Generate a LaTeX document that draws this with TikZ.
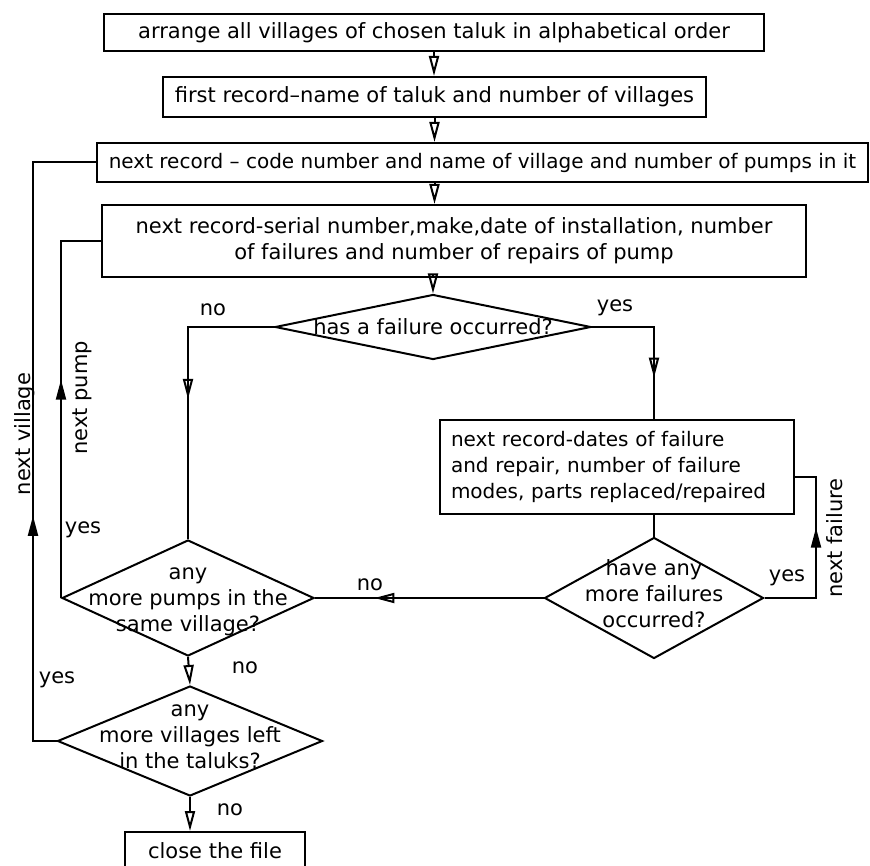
\documentclass[tikz,border=0pt]{standalone}
\usepackage{fontspec}
\setmainfont{DejaVu Sans}
\usetikzlibrary{arrows.meta,shapes.geometric,decorations.markings}
\tikzset{lbl/.style={draw=none, fill=none, inner sep=1pt},
  midarr/.style={postaction={decorate}, decoration={markings,
    mark=at position #1 with {\arrow{Triangle[open, length=10pt, width=5pt]}}}},
  midup/.style={postaction={decorate}, decoration={markings,
    mark=at position #1 with {\arrow{Triangle[length=10pt, width=5pt]}}}}}

\begin{document}
\begin{tikzpicture}[x=0.5pt, y=-0.5pt, line width=1pt,
  >={Triangle[open, length=10pt, width=5pt]},
  every node/.style={font=\fontsize{10.5}{13}\selectfont},
  rec/.style={draw, rectangle, inner sep=0pt},
  dec/.style={draw, diamond, inner sep=0pt},
  dtxt/.style={align=center, inner sep=0pt}]
  \useasboundingbox (0,0) rectangle (870,865);
  % records
  \node[rec, minimum width=330pt, minimum height=18.5pt] (b1) at (434,32.5)
    {arrange all villages of chosen taluk in alphabetical order};
  \node[rec, minimum width=271.5pt, minimum height=20pt] (b2) at (434.5,97)
    {first record--name of taluk and number of villages};
  \node[rec, minimum width=385.5pt, minimum height=19.5pt,
    font=\fontsize{10}{13}\selectfont] (b3) at (482.5,162.5)
    {next record -- code number and name of village and number of pumps in it};
  \node[rec, minimum width=352pt, minimum height=36pt, align=center] (b4) at (454,241)
    {next record-serial number,make,date of installation, number\\
     of failures and number of repairs of pump};
  \node[rec, text width=166pt, inner sep=5.5pt, minimum height=45pt, align=left,
    font=\fontsize{10}{13}\selectfont]
    (b5) at (617,467) {next record-dates of failure\\
     and repair, number of failure\\modes, parts replaced/repaired};
  \node[rec, minimum width=90pt, minimum height=19pt] (b6) at (215,851)
    {close the file};
  % decisions
  \node[dec, minimum width=158pt, minimum height=32.5pt,
    label={[dtxt]center:has a failure occurred?}] (d1) at (433,327) {};
  \node[dec, minimum width=126pt, minimum height=58pt,
    label={[dtxt, yshift=-2pt]center:any\\more pumps in the\\same village?}] (d2) at (188,598) {};
  \node[dec, minimum width=132.5pt, minimum height=55pt,
    label={[dtxt, yshift=2pt]center:any\\more villages left\\in the taluks?}] (d3) at (190,741) {};
  \node[dec, minimum width=109.5pt, minimum height=60.5pt,
    label={[dtxt, yshift=2pt]center:have any\\more failures\\occurred?}] (d4) at (654,598) {};
  \coordinate (nf) at (816,477);
  \coordinate (nv) at (33,741);
  % main line
  \draw[->] (b1.south) -- (b1.south |- b2.north);
  \draw[->] (b2.south) -- (b2.south |- b3.north);
  \draw[->] (b2.south |- b3.south) -- (b2.south |- b4.north);
  \draw[->] (d1.north |- b4.south) -- (d1.north);
  \draw[midarr=0.53] (d1.west) -| (d2.north);
  \draw[midarr=0.73] (d1.east) -| (d4.north |- b5.north);
  \draw (d4.north |- b5.south) -- (d4.north);
  \draw[midarr=0.74] (d4.west) -- (d2.east);
  \draw[->] (d2.south) -- (d3.north);
  \draw[->] (d3.south) -- (d3.south |- b6.north);
  % loops back
  \draw[midup=0.63] (d4.east) -| (nf) -- (nf -| b5.east);
  \draw[midup=0.55] (d2.west) |- (b4.west);
  \draw[midup=0.374] (d3.west) -- (nv) |- (b3.west);
  % branch labels
  \node[lbl] (nod1) at (213,310) {no};
  \node[lbl] (yesd1) at (615,308) {yes};
  \node[lbl] (yesp) at (83,530) {yes};
  \node[lbl] (nod4) at (370,585) {no};
  \node[lbl] (yesd4) at (787,578) {yes};
  \node[lbl] (nod2) at (245,668) {no};
  \node[lbl] (yesd3) at (57,680) {yes};
  \node[lbl] (nod3) at (230,810) {no};
  \node[lbl, rotate=90] (npump) at (82,398) {next pump};
  \node[lbl, rotate=90] (nvill) at (25,434) {next village};
  \node[lbl, rotate=90] (nfail) at (835,538) {next failure};
\end{tikzpicture}
\end{document}
